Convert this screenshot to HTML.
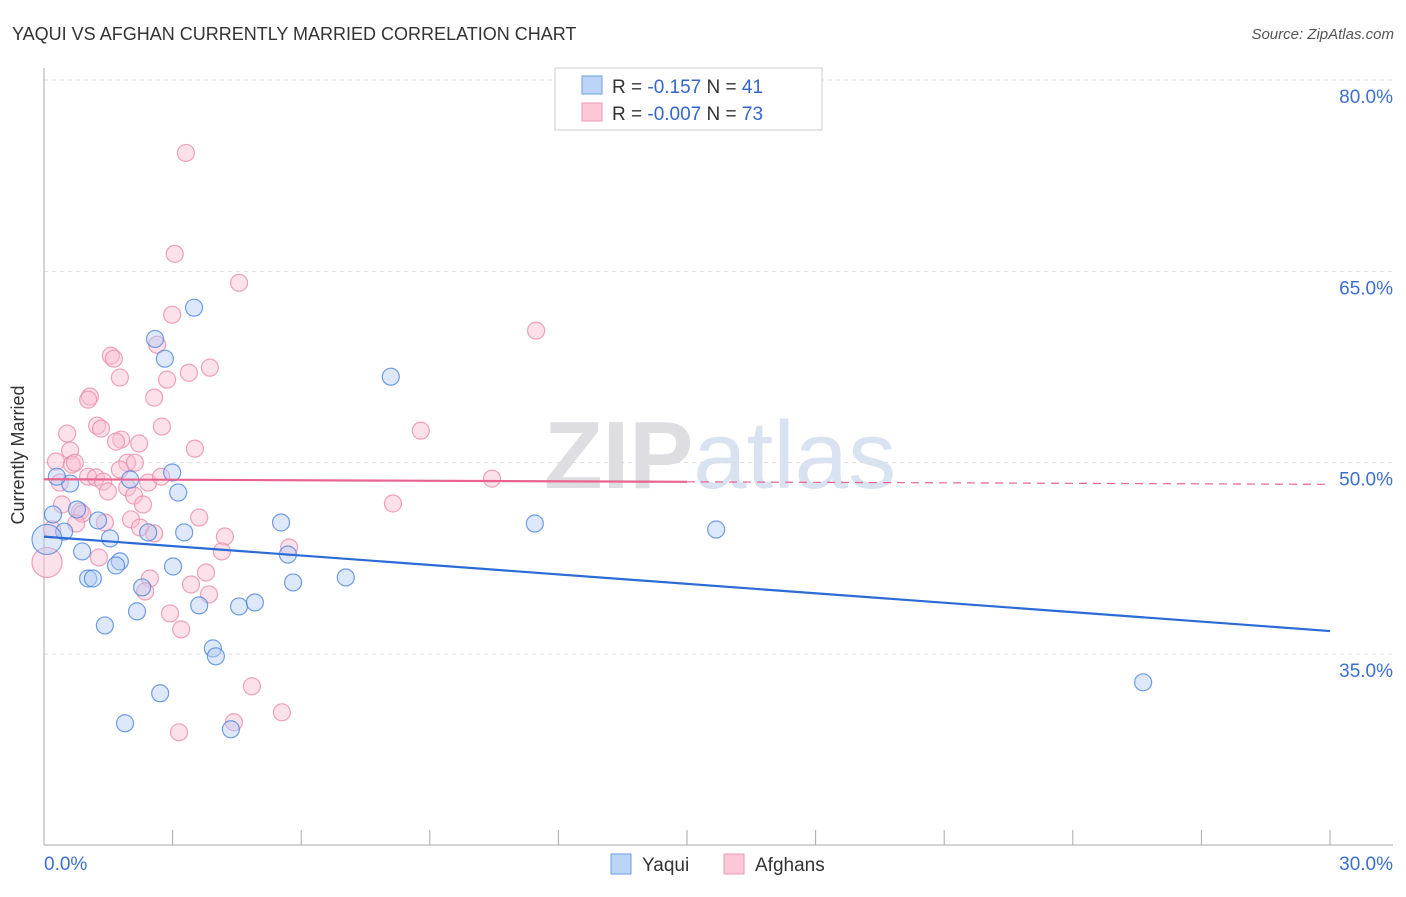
<!DOCTYPE html>
<html><head><meta charset="utf-8"><style>
body{margin:0;background:#fff;font-family:"Liberation Sans",sans-serif}
svg text{font-family:"Liberation Sans",sans-serif}
</style></head><body>
<svg id="chart" width="1406" height="892" viewBox="0 0 1406 892" xmlns="http://www.w3.org/2000/svg">
<text x="12" y="40" font-size="18" fill="#333">YAQUI VS AFGHAN CURRENTLY MARRIED CORRELATION CHART</text>
<text x="1394" y="39" font-size="15" fill="#555" font-style="italic" text-anchor="end">Source: ZipAtlas.com</text>
<text x="720" y="488" font-size="96" fill="#e4e4e8" text-anchor="middle" font-family="Liberation Serif"><tspan font-weight="bold" fill="#dedee2">ZIP</tspan><tspan font-family="Liberation Sans" fill="#d8e2f0">atlas</tspan></text>
<g id="grid"></g>
<g id="axes"></g>
<g id="pts"></g>
<g id="trend"></g>
<text x="24" y="455" font-size="18" fill="#333" text-anchor="middle" transform="rotate(-90 24 455)">Currently Married</text>
<g>
<rect x="555" y="68" width="267" height="62" fill="#fff" stroke="#ccc"/>
<rect x="582" y="76" width="20" height="18" fill="#bcd4f6" stroke="#6a9be0"/>
<rect x="582" y="103" width="20" height="18" fill="#fcc8d8" stroke="#ec9ab4"/>
<text x="612" y="93" font-size="19" fill="#333">R = <tspan fill="#3366cc">-0.157</tspan>   N = <tspan fill="#3366cc">41</tspan></text>
<text x="612" y="120" font-size="19" fill="#333">R = <tspan fill="#3366cc">-0.007</tspan>   N = <tspan fill="#3366cc">73</tspan></text>
</g>
<g>
<rect x="611" y="854" width="20" height="20" fill="#bcd4f6" stroke="#6a9be0"/>
<text x="642" y="871" font-size="19" fill="#333">Yaqui</text>
<rect x="724" y="854" width="20" height="20" fill="#fcc8d8" stroke="#ec9ab4"/>
<text x="755" y="871" font-size="19" fill="#333">Afghans</text>
</g>
</svg>
<script>
const yTicks=[80,65,50,35];
const yTickLabels=["80.0%","65.0%","50.0%","35.0%"];
const xTickLabels=["0.0%","30.0%"];
const yaquiX=[3.50,2.59,2.82,8.09,2.99,3.13,2.01,0.61,0.30,0.21,0.77,1.26,0.47,0.07,1.54,2.43,3.27,5.53,11.45,15.68,0.89,1.77,1.68,3.01,5.69,5.81,7.04,1.03,1.14,2.29,2.17,3.62,4.55,4.92,1.42,3.94,4.01,2.71,1.89,4.36,25.64];
const yaquiY=[62.15,59.7,58.15,56.74,49.23,47.66,48.68,48.36,48.9,45.94,46.33,45.47,44.6,43.98,44.06,44.53,44.53,45.31,45.23,44.76,43.04,42.26,41.94,41.86,42.8,40.61,41.0,40.92,40.92,40.22,38.34,38.81,38.73,39.04,37.24,35.44,34.82,31.92,29.57,29.1,32.78];
const afghanX=[3.31,3.05,4.55,2.99,11.48,2.64,1.56,1.63,1.77,2.87,3.87,3.38,1.07,1.03,2.57,1.24,1.33,0.54,1.8,1.68,2.22,2.75,3.52,8.79,0.61,0.28,0.65,0.72,1.94,2.12,1.77,1.03,0.37,1.21,1.38,2.43,2.73,1.49,1.94,2.1,10.45,0.42,0.84,0.89,2.31,0.75,1.42,2.03,3.62,8.14,0.19,2.24,2.57,4.22,0.07,1.28,4.15,5.72,2.47,3.78,2.36,3.43,3.85,2.94,3.2,4.85,5.55,4.43,3.15];
const afghanY=[74.28,66.37,64.1,61.6,60.35,59.25,58.39,58.15,56.67,56.51,57.45,57.05,55.18,54.94,55.1,52.9,52.67,52.28,51.81,51.65,51.5,52.83,51.1,52.51,50.95,50.09,49.85,50.0,50.0,50.0,49.46,48.9,48.44,48.84,48.52,48.44,48.9,47.74,48.05,47.42,48.75,46.72,46.17,46.0,46.72,45.23,45.31,45.55,45.7,46.8,44.76,44.92,44.45,44.21,42.18,42.57,43.04,43.35,40.92,41.39,39.9,40.45,39.67,38.18,36.93,32.47,30.43,29.65,28.86];
const yaquiBig=[13];
const afghanBig=[54];
const yaquiTrend=[44.2,36.8];
const afghanTrend=[48.7,48.3];
const NS="http://www.w3.org/2000/svg";
function X(v){return 44+v*(1330-44)/30;}
function Y(v){return 80+(80-v)*(654-80)/45;}
function mk(t,a,p){const e=document.createElementNS(NS,t);for(const k in a)e.setAttribute(k,a[k]);p.appendChild(e);return e;}
const grid=document.getElementById('grid'),axes=document.getElementById('axes'),pts=document.getElementById('pts'),trend=document.getElementById('trend');
yTicks.forEach((t,i)=>{
 const l=mk('line',{x1:44,x2:1393,y1:Y(t),y2:Y(t),stroke:'#ddd','stroke-dasharray':'4,4'},grid);
 
 
 const tx=mk('text',{x:1393,y:Y(t)+23,'font-size':19,fill:'#3b6fd4','text-anchor':'end'},axes);
 tx.textContent=yTickLabels[i];
 
 
});
mk('line',{x1:44,x2:44,y1:68,y2:845,stroke:'#aaa'},axes);
mk('line',{x1:44,x2:1393,y1:845,y2:845,stroke:'#aaa'},axes);
for(let i=0;i<=10;i++){const t=mk('line',{x1:X(i*3),x2:X(i*3),y1:830,y2:845,stroke:'#aaa'},axes);
 
 }
[[0,'start',44],[1,'end',1393]].forEach(([i,a,x])=>{const t=mk('text',{x:x,y:870,'font-size':19,fill:'#3b6fd4','text-anchor':a},axes);t.textContent=xTickLabels[i];
 
 });
function draw(xs,ys,big,fill,stroke,name){xs.forEach((v,i)=>{const c=mk('circle',{cx:X(v),cy:Y(ys[i]),r:big.includes(i)?15:8.5,fill:fill,'fill-opacity':0.45,stroke:stroke,'stroke-opacity':0.8,'stroke-width':1.2},pts);
 
 });}
draw(afghanX,afghanY,afghanBig,'#fbbdd0','#ea8cab','afghan-point');
draw(yaquiX,yaquiY,yaquiBig,'#b3cdf3','#4f86dc','yaqui-point');
const bl=mk('line',{x1:X(0),y1:Y(yaquiTrend[0]),x2:X(30),y2:Y(yaquiTrend[1]),stroke:'#2a6bd6','stroke-width':2.2},trend);


const pm=(afghanTrend[0]+afghanTrend[1])/2;
const pl=mk('line',{x1:X(0),y1:Y(afghanTrend[0]),x2:X(15),y2:Y(pm),stroke:'#e8648e','stroke-width':2.2},trend);


const pd=mk('line',{x1:X(15),y1:Y(pm),x2:X(30),y2:Y(afghanTrend[1]),stroke:'#e8648e','stroke-width':1.2,'stroke-dasharray':'8,6'},trend);


</script>
</body></html>
